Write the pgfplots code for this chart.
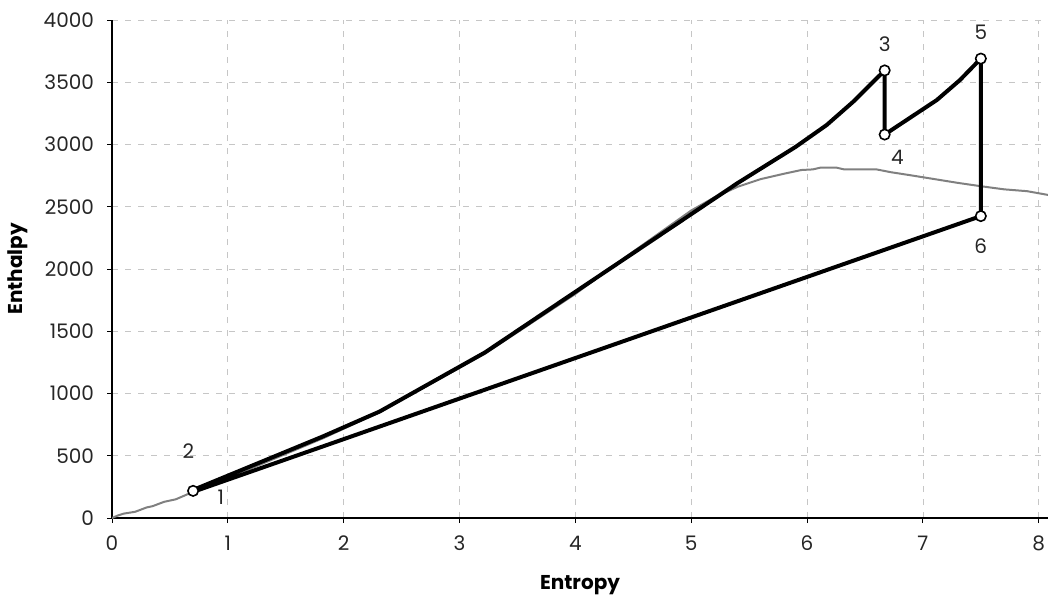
\documentclass[border=0pt]{standalone}
\usepackage{fontspec}
\setmainfont{Poppins}
\usepackage{pgfplots}
\pgfplotsset{compat=1.18}

\begin{document}
\begin{tikzpicture}
\begin{axis}[
    scale only axis,
    width=468pt, height=249pt,
    xmin=0, xmax=8.08,
    ymin=0, ymax=4000,
    xtick={0,1,...,8},
    ytick={0,500,...,4000},
    axis lines*=left,
    tick align=outside,
    major tick length=2.5pt,
    tick style={black, line width=0.5pt},
    axis line style={black, line width=0.6pt},
    grid=major,
    major grid style={gray!45, dash pattern=on 3pt off 3.5pt, line width=0.4pt},
    ticklabel style={font=\fontsize{10}{12}\selectfont, text=black!85},
    /pgf/number format/assume math mode=true,
    /pgf/number format/1000 sep={},
    yticklabel style={xshift=-3pt},
    xticklabel style={yshift=-3pt},
    xlabel={Entropy},
    ylabel={Enthalpy},
    label style={font=\fontsize{10}{12}\selectfont\bfseries},
    xlabel style={at={(axis description cs:0.5,-0.1345)}, anchor=center},
    ylabel style={at={(axis description cs:-0.1004,0.5)}, anchor=center},
    clip=true,
]
% saturation dome
\addplot[gray, line width=1pt] coordinates {
    (0,0) (0.05,20) (0.1,35) (0.2,50) (0.3,85) (0.35,95) (0.45,130) (0.55,150)
    (0.7,210) (1.0,320) (1.82,640) (2.31,850) (3.22,1320) (4.0,1800) (4.5,2140)
    (5.0,2470) (5.2,2575) (5.4,2660) (5.6,2722) (5.8,2765) (5.95,2795) (6.05,2800)
    (6.12,2815) (6.25,2815) (6.32,2800) (6.6,2800) (6.72,2778) (6.9,2752)
    (7.1,2722) (7.3,2692) (7.5,2665) (7.7,2640) (7.9,2625) (8.08,2595)
};
% cycle
\addplot[black, line width=2pt, line join=round] coordinates {
    (0.70,210) (0.70,225) (1.82,655) (2.31,855) (3.22,1330) (5.40,2690)
    (5.90,2980) (6.17,3157) (6.40,3345) (6.67,3595)
    (6.67,3080) (7.12,3357) (7.32,3518) (7.50,3690)
    (7.50,2425) (0.70,210)
};
% state points
\addplot[only marks, mark=*, mark size=2.6pt,
    mark options={fill=white, draw=black, line width=0.8pt}] coordinates {
    (0.70,218) (6.67,3595) (6.67,3080) (7.50,3690) (7.50,2425)
};
\node[font=\fontsize{10}{12}\selectfont, text=black!85] at (axis cs:0.94,170) {1};
\node[font=\fontsize{10}{12}\selectfont, text=black!85] at (axis cs:0.66,540) {2};
\node[font=\fontsize{10}{12}\selectfont, text=black!85] at (axis cs:6.67,3805) {3};
\node[font=\fontsize{10}{12}\selectfont, text=black!85] at (axis cs:6.78,2900) {4};
\node[font=\fontsize{10}{12}\selectfont, text=black!85] at (axis cs:7.50,3900) {5};
\node[font=\fontsize{10}{12}\selectfont, text=black!85] at (axis cs:7.50,2185) {6};
\end{axis}
\pgfresetboundingbox
\path (-56pt,-44pt) rectangle (468pt,259pt);
\end{tikzpicture}
\end{document}
